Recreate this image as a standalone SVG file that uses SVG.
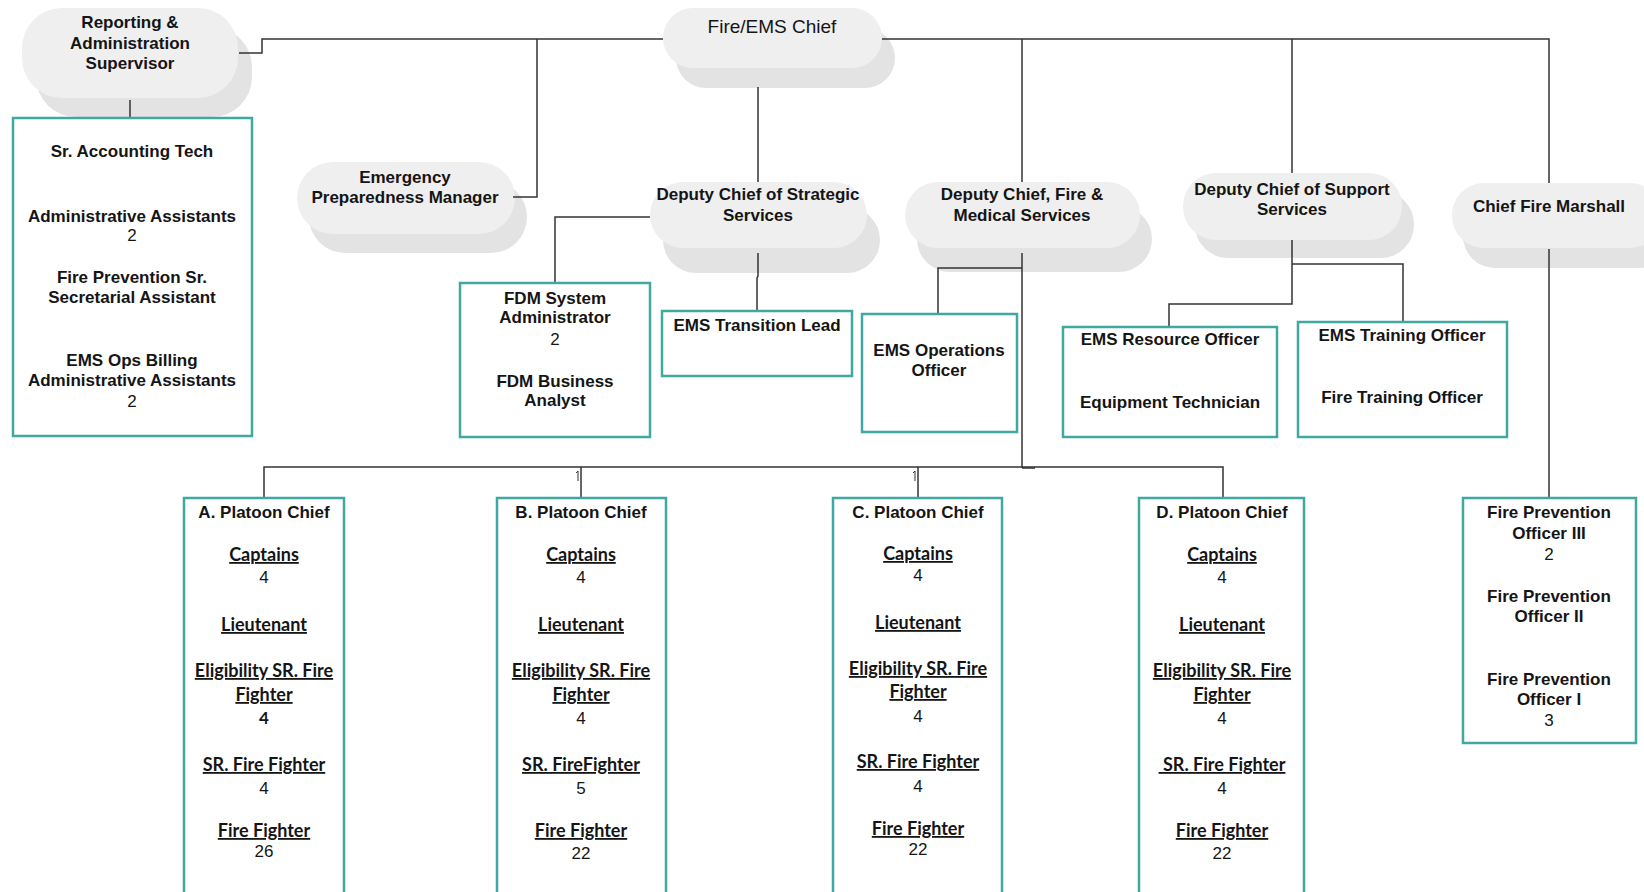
<svg xmlns="http://www.w3.org/2000/svg" width="1644" height="892" viewBox="0 0 1644 892">
<style>
.pf{fill:#efefef}
.ps{fill:#e3e3e3}
.box{fill:#fff;stroke:#3fa9a1;stroke-width:2.5}
.t{font-family:"Liberation Sans",Arial,sans-serif;font-weight:bold;font-size:17px;fill:#151515;text-anchor:middle}
.r{font-weight:normal}
.u{font-family:Lato,"Open Sans",sans-serif;font-weight:bold;font-size:18px;text-decoration:underline}
.c{stroke:#333;stroke-width:1.5;fill:none}
</style>
<rect width="1644" height="892" fill="#fff"/>

<g id="pills">
<g id="reporting">
<rect class="ps" x="36" y="27" width="216" height="90" rx="40"/>
<rect class="pf" x="22" y="8" width="216" height="90" rx="40"/>
<text class="t" x="130" y="28">Reporting &amp;</text>
<text class="t" x="130" y="49">Administration</text>
<text class="t" x="130" y="69">Supervisor</text>
</g>
<g id="chief">
<rect class="ps" x="676" y="28" width="219" height="60" rx="30"/>
<rect class="pf" x="663" y="8" width="219" height="60" rx="30"/>
<text class="t r" x="772" y="33" style="font-size:19px">Fire/EMS Chief</text>
</g>
<g id="epm">
<rect class="ps" x="309" y="181" width="218" height="72" rx="36"/>
<rect class="pf" x="297" y="162" width="218" height="72" rx="36"/>
<text class="t" x="405" y="183">Emergency</text>
<text class="t" x="405" y="203">Preparedness Manager</text>
</g>
<g id="strategic">
<rect class="ps" x="663" y="207" width="217" height="66" rx="33"/>
<rect class="pf" x="650" y="182" width="217" height="66" rx="33"/>
<text class="t" x="758" y="200">Deputy Chief of Strategic</text>
<text class="t" x="758" y="221">Services</text>
</g>
<g id="firemed">
<rect class="ps" x="917" y="206" width="235" height="66" rx="33"/>
<rect class="pf" x="905" y="182" width="235" height="66" rx="33"/>
<text class="t" x="1022" y="200">Deputy Chief, Fire &amp;</text>
<text class="t" x="1022" y="221">Medical Services</text>
</g>
<g id="support">
<rect class="ps" x="1195" y="191" width="219" height="67" rx="33"/>
<rect class="pf" x="1183" y="173" width="219" height="67" rx="33"/>
<text class="t" x="1292" y="195">Deputy Chief of Support</text>
<text class="t" x="1292" y="215">Services</text>
</g>
<g id="marshall">
<rect class="ps" x="1463" y="203" width="210" height="65" rx="32"/>
<rect class="pf" x="1452" y="183" width="210" height="65" rx="32"/>
<text class="t" x="1549" y="212">Chief Fire Marshall</text>
</g>
</g>

<g id="connectors">
<path class="c" d="M239,53 H262 V39 H663"/>
<path class="c" d="M537,39 V197 H513"/>
<path class="c" d="M882,39 H1549 V183"/>
<path class="c" d="M1022,39 V182"/>
<path class="c" d="M1292,39 V173"/>
<path class="c" d="M758,87 V182"/>
<path class="c" d="M650,217 H555 V283"/>
<path class="c" d="M758,253 V276 L757,278 V311"/>
<path class="c" d="M1022,253 V468"/>
<path class="c" d="M1022,268 H938 V314"/>
<path class="c" d="M264,498 V467 H1223 V498"/>
<path class="c" d="M581,467 V498"/>
<path class="c" d="M918,467 V498"/>
<path class="c" d="M576,473 L578,471 V481" style="stroke-width:1"/>
<path class="c" d="M913,473 L915,471 V481" style="stroke-width:1"/>
<path class="c" d="M1022,468 H1035"/>
<path class="c" d="M1292,240 V304 H1169 V327"/>
<path class="c" d="M1292,264 H1403 V322"/>
<path class="c" d="M1549,249 V498"/>
<path class="c" d="M130,100 V118"/>
</g>

<g id="admin">
<rect class="box" x="13" y="118" width="239" height="318"/>
<text class="t" x="132" y="157">Sr. Accounting Tech</text>
<text class="t" x="132" y="222">Administrative Assistants</text>
<text class="t r" x="132" y="241">2</text>
<text class="t" x="132" y="283">Fire Prevention Sr.</text>
<text class="t" x="132" y="303">Secretarial Assistant</text>
<text class="t" x="132" y="366">EMS Ops Billing</text>
<text class="t" x="132" y="386">Administrative Assistants</text>
<text class="t r" x="132" y="407">2</text>
</g>

<g id="fdm">
<rect class="box" x="460" y="283" width="190" height="154"/>
<text class="t" x="555" y="304">FDM System</text>
<text class="t" x="555" y="323">Administrator</text>
<text class="t r" x="555" y="345">2</text>
<text class="t" x="555" y="387">FDM Business</text>
<text class="t" x="555" y="406">Analyst</text>
</g>

<g id="transition">
<rect class="box" x="662" y="311" width="190" height="65"/>
<text class="t" x="757" y="331">EMS Transition Lead</text>
</g>

<g id="emsops">
<rect class="box" x="862" y="314" width="155" height="118"/>
<text class="t" x="939" y="356">EMS Operations</text>
<text class="t" x="939" y="376">Officer</text>
</g>

<g id="resource">
<rect class="box" x="1063" y="327" width="214" height="110"/>
<text class="t" x="1170" y="345">EMS Resource Officer</text>
<text class="t" x="1170" y="408">Equipment Technician</text>
</g>

<g id="training">
<rect class="box" x="1298" y="322" width="209" height="115"/>
<text class="t" x="1402" y="341">EMS Training Officer</text>
<text class="t" x="1402" y="403">Fire Training Officer</text>
</g>

<g id="platoonA">
<rect class="box" x="184" y="498" width="160" height="410"/>
<text class="t" x="264" y="518">A. Platoon Chief</text>
<text class="t u" x="264" y="561">Captains</text>
<text class="t r" x="264" y="583">4</text>
<text class="t u" x="264" y="631">Lieutenant</text>
<text class="t u" x="264" y="677">Eligibility SR. Fire</text>
<text class="t u" x="264" y="701">Fighter</text>
<text class="t" x="264" y="724" style="font-family:Lato,sans-serif">4</text>
<text class="t u" x="264" y="771">SR. Fire Fighter</text>
<text class="t r" x="264" y="794">4</text>
<text class="t u" x="264" y="837">Fire Fighter</text>
<text class="t r" x="264" y="857">26</text>
</g>

<g id="platoonB">
<rect class="box" x="497" y="498" width="169" height="410"/>
<text class="t" x="581" y="518">B. Platoon Chief</text>
<text class="t u" x="581" y="561">Captains</text>
<text class="t r" x="581" y="583">4</text>
<text class="t u" x="581" y="631">Lieutenant</text>
<text class="t u" x="581" y="677">Eligibility SR. Fire</text>
<text class="t u" x="581" y="701">Fighter</text>
<text class="t r" x="581" y="724">4</text>
<text class="t u" x="581" y="771">SR. FireFighter</text>
<text class="t r" x="581" y="794">5</text>
<text class="t u" x="581" y="837">Fire Fighter</text>
<text class="t r" x="581" y="859">22</text>
</g>

<g id="platoonC">
<rect class="box" x="833" y="498" width="169" height="410"/>
<text class="t" x="918" y="518">C. Platoon Chief</text>
<text class="t u" x="918" y="560">Captains</text>
<text class="t r" x="918" y="581">4</text>
<text class="t u" x="918" y="629">Lieutenant</text>
<text class="t u" x="918" y="675">Eligibility SR. Fire</text>
<text class="t u" x="918" y="698">Fighter</text>
<text class="t r" x="918" y="722">4</text>
<text class="t u" x="918" y="768">SR. Fire Fighter</text>
<text class="t r" x="918" y="792">4</text>
<text class="t u" x="918" y="835">Fire Fighter</text>
<text class="t r" x="918" y="855">22</text>
</g>

<g id="platoonD">
<rect class="box" x="1139" y="498" width="165" height="410"/>
<text class="t" x="1222" y="518">D. Platoon Chief</text>
<text class="t u" x="1222" y="561">Captains</text>
<text class="t r" x="1222" y="583">4</text>
<text class="t u" x="1222" y="631">Lieutenant</text>
<text class="t u" x="1222" y="677">Eligibility SR. Fire</text>
<text class="t u" x="1222" y="701">Fighter</text>
<text class="t r" x="1222" y="724">4</text>
<text class="t u" x="1222" y="771" xml:space="preserve"> SR. Fire Fighter</text>
<text class="t r" x="1222" y="794">4</text>
<text class="t u" x="1222" y="837">Fire Fighter</text>
<text class="t r" x="1222" y="859">22</text>
</g>

<g id="prevention">
<rect class="box" x="1463" y="498" width="173" height="245"/>
<text class="t" x="1549" y="518">Fire Prevention</text>
<text class="t" x="1549" y="539">Officer III</text>
<text class="t r" x="1549" y="560">2</text>
<text class="t" x="1549" y="602">Fire Prevention</text>
<text class="t" x="1549" y="622">Officer II</text>
<text class="t" x="1549" y="685">Fire Prevention</text>
<text class="t" x="1549" y="705">Officer I</text>
<text class="t r" x="1549" y="726">3</text>
</g>
</svg>
